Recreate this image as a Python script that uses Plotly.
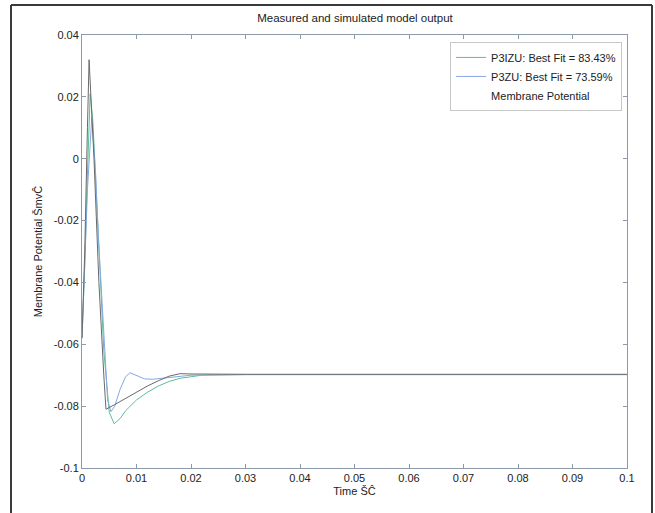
import plotly.graph_objects as go

# Measured membrane potential
t_meas = [0, 0.0005, 0.001, 0.0013, 0.0022, 0.0031, 0.0040, 0.0044, 0.006, 0.008, 0.010,
          0.012, 0.014, 0.016, 0.018, 0.020, 0.03, 0.05, 0.1]
v_meas = [-0.058, -0.03, 0.01, 0.032, 0.0, -0.04, -0.070, -0.081, -0.0795, -0.0775, -0.0755,
          -0.0735, -0.0718, -0.0703, -0.0695, -0.0696, -0.0697, -0.0697, -0.0697]

# P3IZU model
t_p3izu = [0, 0.0005, 0.001, 0.0015, 0.002, 0.003, 0.004, 0.005, 0.0059, 0.007, 0.008, 0.010,
           0.012, 0.014, 0.016, 0.018, 0.020, 0.022, 0.025, 0.03, 0.1]
v_p3izu = [-0.058, -0.035, -0.005, 0.021, 0.012, -0.025, -0.062, -0.082, -0.0857, -0.0840,
           -0.0815, -0.0780, -0.0755, -0.0735, -0.0720, -0.0710, -0.0704, -0.0700, -0.0699,
           -0.0698, -0.0698]

# P3ZU model
t_p3zu = [0, 0.0005, 0.001, 0.0018, 0.0025, 0.003, 0.004, 0.0047, 0.0053, 0.006, 0.007, 0.008,
          0.0088, 0.010, 0.0115, 0.013, 0.016, 0.02, 0.03, 0.1]
v_p3zu = [-0.058, -0.035, -0.01, 0.0135, -0.005, -0.025, -0.058, -0.078, -0.0818, -0.080,
          -0.0745, -0.0705, -0.0692, -0.0700, -0.0712, -0.0713, -0.0708, -0.0700, -0.0698, -0.0698]

x_ticks = [0, 0.01, 0.02, 0.03, 0.04, 0.05, 0.06, 0.07, 0.08, 0.09, 0.1]
x_tick_labels = ["0", "0.01", "0.02", "0.03", "0.04", "0.05", "0.06", "0.07", "0.08", "0.09", "0.1"]
y_ticks = [-0.1, -0.08, -0.06, -0.04, -0.02, 0, 0.02, 0.04]
y_tick_labels = ["-0.1", "-0.08", "-0.06", "-0.04", "-0.02", "0", "0.02", "0.04"]

GREEN = "#5cbf95"
BLUE = "#86a8e6"
GRAY = "#6a6a6a"

fig = go.Figure()
fig.add_trace(go.Scatter(x=t_p3izu, y=v_p3izu, mode="lines", name="P3IZU: Best Fit = 83.43%",
                         line=dict(color=GREEN, width=1)))
fig.add_trace(go.Scatter(x=t_p3zu, y=v_p3zu, mode="lines", name="P3ZU: Best Fit = 73.59%",
                         line=dict(color=BLUE, width=1)))
fig.add_trace(go.Scatter(x=t_meas, y=v_meas, mode="lines", name="Membrane Potential",
                         line=dict(color=GRAY, width=1), showlegend=False))
fig.add_trace(go.Scatter(x=[None], y=[None], mode="lines", name="Membrane Potential",
                         line=dict(color="rgba(255,255,255,0)", width=1)))

axis_color = "#8d9aab"
fig.update_layout(
    width=655, height=513,
    margin=dict(l=82, r=28, t=35, b=45),
    paper_bgcolor="white", plot_bgcolor="white",
    font=dict(family="Liberation Sans, Arial, sans-serif", size=11, color="#222"),
    title=dict(text="Measured and simulated model output", x=355 / 655, xanchor="center",
               y=1 - 18 / 513, yanchor="middle", font=dict(size=11.5, color="#222")),
    showlegend=True,
    legend=dict(x=0.991, y=0.984, xanchor="right", yanchor="top",
                bgcolor="white", bordercolor="#c8c8c8", borderwidth=1,
                font=dict(size=11, color="#222"), tracegroupgap=0,
                itemwidth=30),
    xaxis=dict(range=[0, 0.1], tickvals=x_ticks, ticktext=x_tick_labels,
               showgrid=False, zeroline=False, showline=True, linecolor=axis_color,
               linewidth=1, mirror="allticks", ticks="inside", ticklen=4,
               tickcolor=axis_color, title=dict(text="Time ŠĈ", standoff=4,
                                                font=dict(size=11, color="#222"))),
    yaxis=dict(range=[-0.1, 0.04], tickvals=y_ticks, ticktext=y_tick_labels,
               showgrid=False, zeroline=False, showline=True, linecolor=axis_color,
               linewidth=1, mirror="allticks", ticks="inside", ticklen=4,
               tickcolor=axis_color, title=dict(text="Membrane Potential ŠmvĈ", standoff=8,
                                                font=dict(size=11, color="#222"))),
)

# outer frame lines (dark border around the figure area)
frame = dict(type="line", xref="paper", yref="paper", line=dict(color="#3a3a3a", width=2))
x_left = (11 - 82) / 545
x_right = (652 - 82) / 545
y_top = (468 - 5) / 433
y_bot = (468 - 520) / 433
fig.add_shape(**frame, x0=x_left, x1=x_left, y0=y_bot, y1=y_top)
fig.add_shape(**frame, x0=x_right, x1=x_right, y0=y_bot, y1=y_top)
fig.add_shape(**frame, x0=x_left, x1=x_right, y0=y_top, y1=y_top)

fig.write_html("out.html", config={"displayModeBar": False},
               post_script="document.body.style.margin='0';document.body.style.overflow='hidden';")
